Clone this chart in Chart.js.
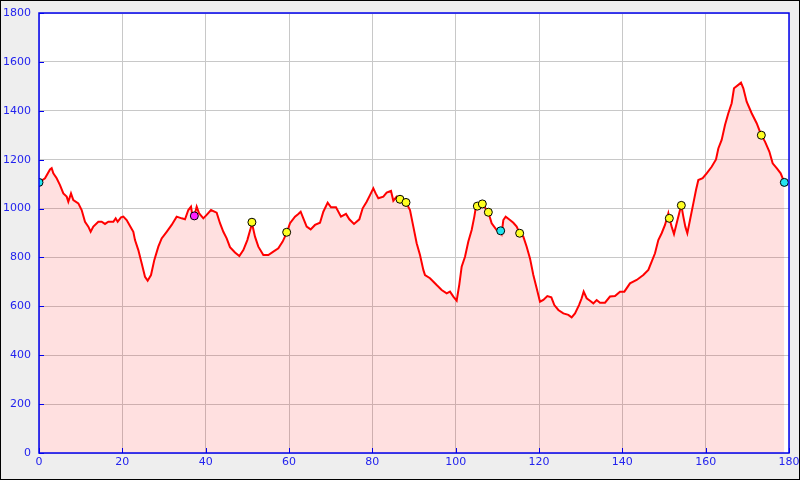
<!DOCTYPE html>
<html>
<head>
<meta charset="utf-8">
<script src="https://cdn.jsdelivr.net/npm/chart.js@4.4.0/dist/chart.umd.min.js"></script>
<style>
  html, body { margin: 0; padding: 0; background: #eeeeee; }
  canvas { display: block; }
</style>
</head>
<body>
<canvas id="profil" width="800" height="480"></canvas>
<script>
// distance (km) / altitude (m) du profil
const distKm = [0, 1.44, 2.64, 3.04, 3.44, 4.24, 5.04, 5.84, 6.64, 7.04, 7.68, 8.24, 9.44, 10.24, 11.04, 11.84, 12.4, 13.04, 14.24, 15.04,
  15.84, 16.64, 17.84, 18.4, 18.88, 19.68, 20.24, 21.04, 21.84, 22.64, 23.04, 23.84, 24.64, 25.44, 26.08, 26.88, 27.68, 28.64, 29.44, 30.64,
  31.84, 33.04, 34.24, 35.04, 35.84, 36.48, 36.8, 37.28, 37.84, 38.4, 39.44, 40.24, 41.28, 42.64, 43.44, 44.24, 45.04, 45.84, 47.04, 48.08,
  49.04, 50, 50.8, 51.12, 51.84, 52.64, 53.84, 55.04, 56.24, 57.44, 58.48, 59.44, 60.24, 61.44, 62.24, 62.8, 63.44, 64.24, 65.2, 66.24,
  67.44, 68.24, 69.28, 70.08, 71.28, 72.48, 73.68, 74.48, 75.6, 76.88, 77.68, 78.64, 79.44, 80.24, 80.8, 81.44, 82.64, 83.44, 84.48, 85.04,
  85.84, 86.64, 88.08, 89.04, 89.84, 90.64, 91.44, 92.24, 92.64, 93.84, 95.44, 96.64, 97.84, 98.64, 99.44, 100.24, 100.88, 101.44, 102.24, 103.04,
  103.84, 104.48, 104.8, 105.2, 106.4, 107.84, 108.64, 109.84, 110.8, 111.04, 111.44, 112, 113.04, 113.84, 114.64, 115.36, 116.24, 117.04, 117.84, 118.64,
  119.44, 120.24, 121.04, 122, 122.96, 123.68, 124.64, 125.84, 127.04, 127.84, 128.64, 129.6, 130.24, 130.72, 131.44, 132.24, 133.04, 133.84, 134.64, 135.84,
  137.04, 138.24, 139.44, 140.48, 141.84, 143.44, 145.04, 146.24, 147.04, 147.84, 148.64, 149.44, 150.24, 151.04, 151.28, 151.84, 152.4, 153.04, 153.84, 154.16,
  154.64, 155.12, 155.6, 156.24, 157.04, 157.68, 158.24, 159.28, 160.24, 161.44, 162.48, 163.04, 163.84, 164.64, 165.44, 166.24, 166.8, 167.84, 168.48, 169.04,
  169.84, 171.04, 172.24, 173.36, 174.24, 175.28, 176.08, 177.04, 178, 178.88];
const altM = [1107, 1124, 1160, 1165, 1144, 1124, 1096, 1062, 1049, 1028, 1062, 1035, 1021, 994, 946, 926, 905, 926, 946, 946,
  937, 946, 946, 960, 946, 964, 967, 953, 929, 905, 871, 830, 776, 721, 705, 728, 790, 844, 878, 905,
  933, 967, 960, 956, 994, 1008, 974, 970, 1008, 981, 960, 974, 994, 983, 940, 905, 878, 842, 820, 806,
  830, 871, 919, 940, 885, 844, 810, 810, 824, 837, 865, 900, 940, 967, 978, 987, 960, 926, 915, 933,
  942, 987, 1024, 1005, 1005, 967, 978, 956, 937, 956, 1001, 1028, 1055, 1083, 1062, 1042, 1049, 1065, 1072, 1032,
  1049, 1038, 1025, 994, 926, 858, 810, 749, 728, 715, 687, 667, 653, 660, 640, 623, 690, 762, 803, 865,
  912, 967, 1001, 1010, 1019, 985, 940, 912, 909, 899, 953, 967, 953, 942, 926, 899, 885, 844, 796, 728,
  674, 619, 626, 642, 637, 605, 585, 571, 565, 555, 571, 605, 633, 660, 633, 623, 612, 626, 615, 615,
  640, 642, 660, 660, 694, 708, 728, 749, 783, 817, 871, 899, 933, 981, 960, 926, 896, 940, 994, 1013,
  967, 926, 899, 953, 1021, 1076, 1117, 1124, 1144, 1171, 1201, 1246, 1281, 1342, 1390, 1431, 1492, 1506, 1515, 1492,
  1437, 1390, 1349, 1300, 1274, 1233, 1185, 1165, 1144, 1107];

// points de passage
const cyanX = [0, 110.8, 178.88];
const cyanY = [1107, 909, 1107];
const magentaX = [37.28];
const magentaY = [970];
const jauneX = [51.1, 59.44, 86.64, 88.08, 105.2, 106.4, 107.84, 115.36, 151.28, 154.16, 173.36];
const jauneY = [944, 903, 1038, 1025, 1010, 1019, 985, 899, 960, 1013, 1300];

const xTicks = [0, 20, 40, 60, 80, 100, 120, 140, 160, 180];
const yTicks = [0, 200, 400, 600, 800, 1000, 1200, 1400, 1600, 1800];

const toPts = (xs, ys) => xs.map((x, i) => ({ x: x, y: ys[i] }));

const BLEU = '#0000ee';
const TEXTE = '#2222ee';
const GRILLE = '#c8c8c8';

const cadre = {
    id: 'cadre',
    beforeDraw(chart) {
        const { ctx, chartArea: a } = chart;
        ctx.save();
        ctx.fillStyle = '#eeeeee';
        ctx.fillRect(0, 0, chart.width, chart.height);
        ctx.fillStyle = '#ffffff';
        ctx.fillRect(a.left, a.top, a.right - a.left, a.bottom - a.top);
        ctx.restore();
    },
    afterDraw(chart) {
        const { ctx, chartArea: a, scales } = chart;
        ctx.save();
        ctx.strokeStyle = BLEU;
        ctx.lineWidth = 1.5;
        ctx.strokeRect(a.left, a.top, a.right - a.left, a.bottom - a.top);
        // petites graduations vers l'intérieur
        ctx.lineWidth = 1;
        ctx.beginPath();
        xTicks.forEach(v => {
            const px = Math.round(scales.x.getPixelForValue(v)) + 0.5;
            ctx.moveTo(px, a.bottom);
            ctx.lineTo(px, a.bottom - 5);
        });
        yTicks.forEach(v => {
            const py = Math.round(scales.y.getPixelForValue(v)) + 0.5;
            ctx.moveTo(a.left, py);
            ctx.lineTo(a.left + 5, py);
        });
        ctx.stroke();
        // bordure extérieure
        ctx.strokeStyle = '#000000';
        ctx.lineWidth = 2;
        ctx.strokeRect(0, 0, chart.width, chart.height);
        ctx.restore();
    }
};

const police = { family: 'DejaVu Sans', size: 11 };

new Chart(document.getElementById('profil'), {
    data: {
        datasets: [
            {
                type: 'scatter',
                data: toPts(cyanX, cyanY),
                backgroundColor: '#22e5f0',
                borderColor: '#000000',
                borderWidth: 1,
                pointRadius: 4,
                order: 0
            },
            {
                type: 'scatter',
                data: toPts(magentaX, magentaY),
                backgroundColor: '#ff22ff',
                borderColor: '#000000',
                borderWidth: 1,
                pointRadius: 4,
                order: 0
            },
            {
                type: 'scatter',
                data: toPts(jauneX, jauneY),
                backgroundColor: '#ffff22',
                borderColor: '#000000',
                borderWidth: 1,
                pointRadius: 4,
                order: 0
            },
            {
                type: 'line',
                data: toPts(distKm, altM),
                borderColor: '#ff0000',
                borderWidth: 2,
                backgroundColor: 'rgba(255, 0, 0, 0.12)',
                fill: 'origin',
                pointRadius: 0,
                tension: 0,
                order: 1
            }
        ]
    },
    options: {
        responsive: false,
        animation: false,
        layout: { padding: { top: 13, right: 11, left: 0, bottom: 0 } },
        scales: {
            x: {
                type: 'linear',
                min: 0,
                max: 180,
                afterFit: (s) => { s.height = 27; s.paddingLeft = 0; s.paddingRight = 0; },
                afterBuildTicks: (s) => { s.ticks = xTicks.map(v => ({ value: v })); },
                border: { display: false },
                grid: { color: GRILLE, drawTicks: false, lineWidth: 1 },
                ticks: { color: TEXTE, font: police, padding: 3, maxRotation: 0, callback: (v) => String(v) }
            },
            y: {
                min: 0,
                max: 1800,
                afterFit: (s) => { s.width = 39; s.paddingTop = 0; s.paddingBottom = 0; },
                afterBuildTicks: (s) => { s.ticks = yTicks.map(v => ({ value: v })); },
                border: { display: false },
                grid: { color: GRILLE, drawTicks: false, lineWidth: 1 },
                ticks: { color: TEXTE, font: police, padding: 8, callback: (v) => String(v) }
            }
        },
        plugins: {
            legend: { display: false },
            tooltip: { enabled: false }
        }
    },
    plugins: [cadre]
});
</script>
</body>
</html>
